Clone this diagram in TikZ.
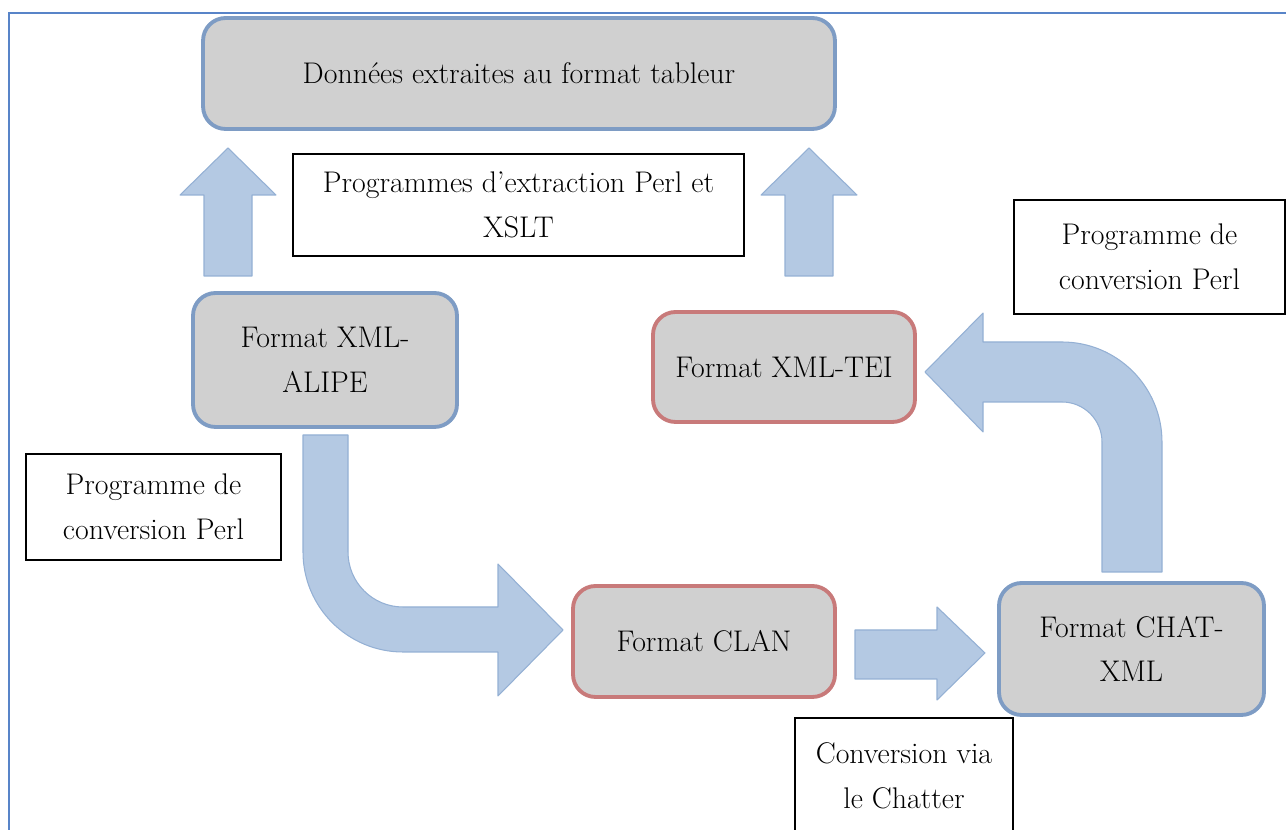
\documentclass[tikz,border=0pt]{standalone}
\usepackage{fontspec}
\usepackage{amsmath}

\definecolor{boxgray}{RGB}{208,208,208}
\definecolor{boxblue}{RGB}{126,156,196}
\definecolor{boxred}{RGB}{200,122,122}
\definecolor{arrowfill}{RGB}{180,201,227}
\definecolor{arrowline}{RGB}{148,176,212}
\definecolor{frameblue}{RGB}{88,132,200}

\begin{document}
\begin{tikzpicture}[x=0.02cm,y=-0.02cm,
		fmt/.style={rounded corners=0.45cm,fill=boxgray,line width=2.2pt,align=center,inner sep=0pt,font=\fontsize{17}{25.5}\selectfont},
		fmtblue/.style={fmt,draw=boxblue},
		fmtred/.style={fmt,draw=boxred},
		note/.style={draw=black,line width=0.8pt,fill=white,align=center,inner sep=0pt,font=\fontsize{17}{25.5}\selectfont},
		blockarrow/.style={fill=arrowfill,draw=arrowline,line width=0.6pt,line join=round}]
				\useasboundingbox (0,0) rectangle (1286,830);
				\clip (0,0) rectangle (1286,830);
				% cadre
				\draw[frameblue,line width=1.6pt] (9,832) -- (9,13) -- (1288,13);
				% fleches vers le haut
				\foreach \cx in {228,809}
					\filldraw[blockarrow] (\cx-24,276) -- (\cx-24,195) -- (\cx-48,195) -- (\cx,148) -- (\cx+48,195) -- (\cx+24,195) -- (\cx+24,276) -- cycle;
				% fleche ALIPE -> CLAN
				\filldraw[blockarrow] (303,435) -- (303,552) .. controls (303,607.2) and (347.8,652) .. (403,652) -- (498,652) -- (498,696) -- (563,630) -- (498,564) -- (498,607) -- (403,607) .. controls (372.6,607) and (348,582.4) .. (348,552) -- (348,435) -- cycle;
				% fleche CLAN -> CHAT-XML
				\filldraw[blockarrow] (855,630) -- (937,630) -- (937,607) -- (985,653) -- (937,700) -- (937,679) -- (855,679) -- cycle;
				% fleche CHAT-XML -> TEI
				\filldraw[blockarrow] (1102,572) -- (1102,442) .. controls (1102,419.9) and (1084.1,402) .. (1062,402) -- (983,402) -- (983,432) -- (925,372) -- (983,313) -- (983,342) -- (1062,342) .. controls (1117.2,342) and (1162,386.8) .. (1162,442) -- (1162,572) -- cycle;
				% formats
				\node[fmtblue,minimum width=12.64cm,minimum height=2.22cm] (donnees) at (519,73.5) {Données extraites au format tableur};
				\node[fmtblue,minimum width=5.28cm,minimum height=2.68cm] (alipe) at (325,360) {Format XML-\\ALIPE};
				\node[fmtred,minimum width=5.24cm,minimum height=2.2cm] (tei) at (784,367) {Format XML-TEI};
				\node[fmtred,minimum width=5.24cm,minimum height=2.22cm] (clan) at (704,641.5) {Format CLAN};
				\node[fmtblue,minimum width=5.3cm,minimum height=2.64cm] (chat) at (1131.5,649) {Format CHAT-\\XML};
				% programmes
				\node[note,minimum width=9.02cm,minimum height=2.04cm] (extraction) at (518.5,205) {Programmes d’extraction Perl et\\XSLT};
				\node[note,minimum width=5.42cm,minimum height=2.28cm] (convR) at (1149.5,257) {Programme de\\conversion Perl};
				\node[note,minimum width=5.1cm,minimum height=2.12cm] (convL) at (153.5,507) {Programme de\\conversion Perl};
				\node[note,minimum width=4.36cm,minimum height=2.32cm] (chatter) at (904,776) {Conversion via\\le Chatter};
			\end{tikzpicture}
\end{document}
